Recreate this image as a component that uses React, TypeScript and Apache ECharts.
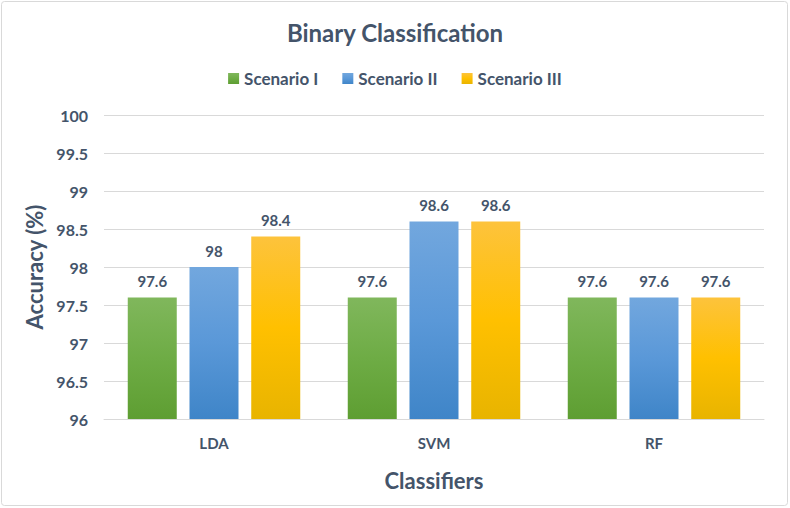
import React, { useEffect, useRef } from "react";
import * as echarts from "echarts";

const categories = ["LDA", "SVM", "RF"];
const seriesNames = ["Scenario I", "Scenario II", "Scenario III"];
const scenario1 = [97.6, 97.6, 97.6];
const scenario2 = [98, 98.6, 97.6];
const scenario3 = [98.4, 98.6, 97.6];

const textColor = "#44546A";
const fontFamily = "Lato, 'Open Sans', sans-serif";

const grad = (top: string, mid: string, bottom: string) =>
  new echarts.graphic.LinearGradient(0, 0, 0, 1, [
    { offset: 0, color: top },
    { offset: 0.5, color: mid },
    { offset: 1, color: bottom },
  ]);

export default function App() {
  const ref = useRef<HTMLDivElement>(null);
  useEffect(() => {
    if (!ref.current) return;
    const chart = echarts.init(ref.current, undefined, { renderer: "svg" });
    const label = {
      show: true,
      position: "top" as const,
      distance: 9,
      color: textColor,
      fontWeight: "bold" as const,
      fontSize: 15,
      fontFamily,
    };
    const colors = [
      ["#80B75C", "#6EAC45", "#5E9E32"],
      ["#72A7DE", "#5A98D8", "#3F85C8"],
      ["#FDC33C", "#FFC000", "#E8B400"],
    ];
    const data = [scenario1, scenario2, scenario3];
    chart.setOption({
      animation: false,
      color: ["#70AD47", "#5B9BD5", "#FFC000"],
      graphic: [
        {
          type: "rect",
          shape: { x: 1.5, y: 1.5, width: 786, height: 504, r: 3 },
          style: { fill: "none", stroke: "#D9D9D9", lineWidth: 1 },
          silent: true,
        },
      ],
      title: {
        text: "Binary Classification",
        left: "center",
        top: 15,
        textStyle: { color: textColor, fontSize: 24, fontWeight: "bold", fontFamily },
      },
      legend: {
        top: 65,
        left: "center",
        itemWidth: 11,
        itemHeight: 11,
        itemGap: 24,
        icon: "rect",
        textStyle: { color: textColor, fontSize: 17, fontWeight: "bold", fontFamily },
        data: seriesNames,
      },
      grid: { left: 104, right: 26, top: 115, bottom: 89, containLabel: false },
      xAxis: {
        type: "category",
        data: categories,
        name: "Classifiers",
        nameLocation: "middle",
        nameGap: 50,
        nameTextStyle: { color: textColor, fontSize: 22, fontWeight: "bold", fontFamily },
        axisLine: { lineStyle: { color: "#D9D9D9" } },
        axisTick: { show: false },
        axisLabel: { color: textColor, fontSize: 15, fontWeight: "bold", fontFamily, margin: 16 },
      },
      yAxis: {
        type: "value",
        min: 96,
        max: 100,
        interval: 0.5,
        name: "Accuracy (%)",
        nameLocation: "middle",
        nameGap: 56,
        nameTextStyle: { color: textColor, fontSize: 22, fontWeight: "bold", fontFamily },
        axisLine: { show: false },
        axisTick: { show: false },
        axisLabel: { color: textColor, fontSize: 16, fontWeight: "bold", fontFamily, margin: 16 },
        splitLine: { lineStyle: { color: "#D9D9D9" } },
      },
      series: seriesNames.map((name, i) => ({
        name,
        type: "bar",
        data: data[i],
        barWidth: 49,
        barGap: "26%",
        label,
        itemStyle: { color: grad(colors[i][0], colors[i][1], colors[i][2]) },
      })),
    });
    return () => chart.dispose();
  }, []);
  return (
    <div
      ref={ref}
      style={{ position: "fixed", left: 0, top: 0, width: 790, height: 508, background: "#fff" }}
    />
  );
}
